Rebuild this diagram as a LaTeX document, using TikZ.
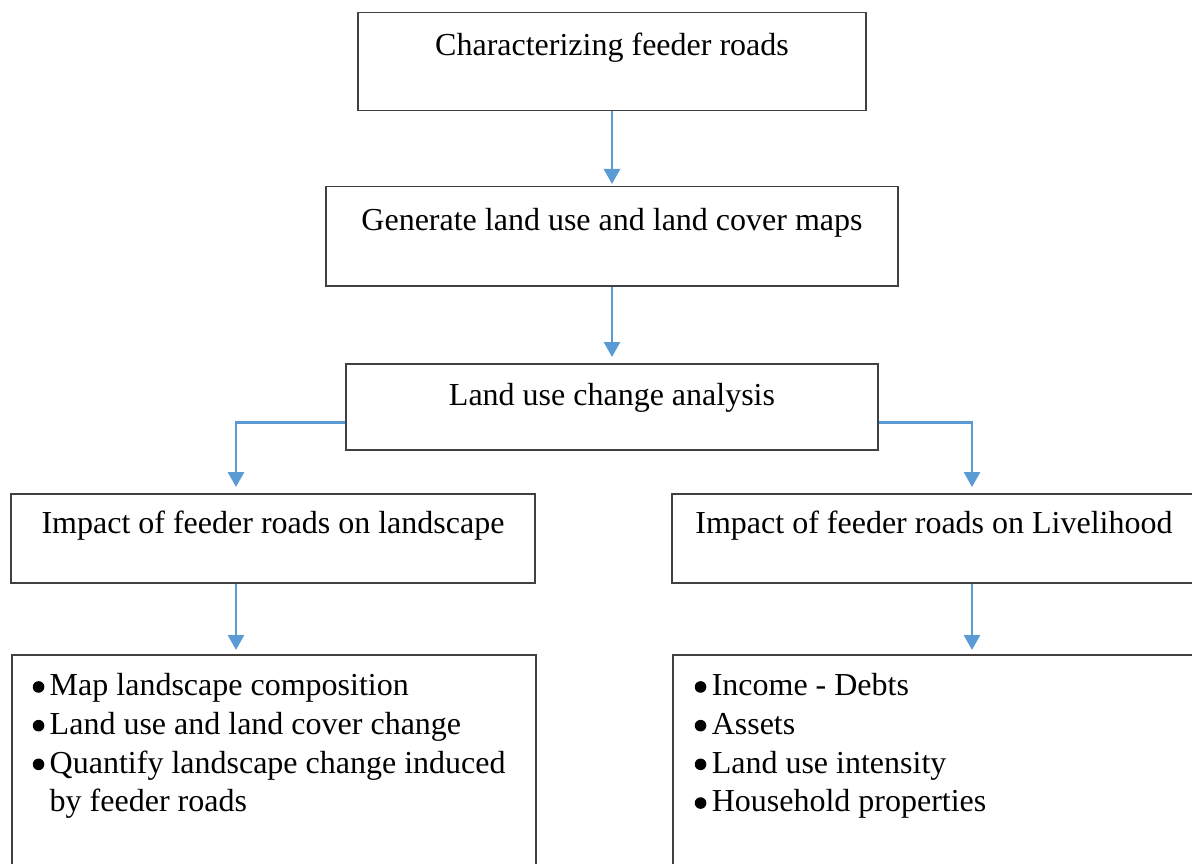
\documentclass[tikz,border=0pt]{standalone}
\usepackage{fontspec}
\setmainfont{Liberation Serif}
\usetikzlibrary{arrows.meta}
\definecolor{arrowblue}{HTML}{5B9BD5}
\definecolor{boxline}{HTML}{404040}
\newcommand{\itembullet}{\makebox[17pt][l]{\tikz[baseline=0pt,x=1pt,y=1pt]\fill[black] (5.8,8.8) circle (5.8pt);}}
\begin{document}
\begin{tikzpicture}[x=1pt,y=-1pt,
  box/.style={draw=boxline, line width=1.5pt, rectangle, inner sep=0pt, anchor=north,
    font=\fontsize{32}{38.7}\selectfont},
  listbox/.style={box, anchor=north west, inner ysep=0pt, text height=41pt, text depth=215pt},
  conn/.style={draw=arrowblue, line width=2.8pt, -{Triangle[width=16pt,length=15pt]}},
]
\useasboundingbox (0,0) rectangle (1192,864);
\fill[white] (0,0) rectangle (1192,864);
\clip (0,0) rectangle (1192,864);

\node[box, minimum width=508pt, text height=43pt, text depth=55pt] (b1) at (612,12) {Characterizing feeder roads};
\node[box, minimum width=572pt, text height=44pt, text depth=55pt] (b2) at (612,186) {Generate land use and land cover maps};
\node[box, minimum width=532pt, text height=42pt, text depth=44pt] (b3) at (612,363) {Land use change analysis};
\node[box, minimum width=524pt, text height=40pt, text depth=49pt] (b4) at (273,493) {Impact of feeder roads on landscape};
\node[box, minimum width=524pt, text height=40pt, text depth=49pt] (b5) at (934,493) {Impact of feeder roads on Livelihood};

\node[listbox, inner xsep=21pt] (b6) at (11,654) {\parbox[t]{482pt}{%
  \itembullet Map landscape composition\\
  \itembullet Land use and land cover change\\
  \itembullet Quantify landscape change induced\\
  \hspace*{17pt}by feeder roads}};
\node[listbox, inner xsep=22pt] (b7) at (672,654) {\parbox[t]{480pt}{%
  \itembullet Income - Debts\\
  \itembullet Assets\\
  \itembullet Land use intensity\\
  \itembullet Household properties}};

\coordinate (aL) at (236,493);
\coordinate (aR) at (972,493);

\draw[conn, shorten >=2pt] (b1.south) -- (b2.north);
\draw[conn, shorten >=6pt] (b2.south) -- (b3.north);
\draw[conn, shorten >=6pt] ([yshift=-16pt]b3.west) -| (aL);
\draw[conn, shorten >=6pt] ([yshift=-16pt]b3.east) -| (aR);
\draw[conn, shorten >=4pt] (b4.south -| aL) -- (b6.north -| aL);
\draw[conn, shorten >=4pt] (b5.south -| aR) -- (b7.north -| aR);
\end{tikzpicture}
\end{document}
